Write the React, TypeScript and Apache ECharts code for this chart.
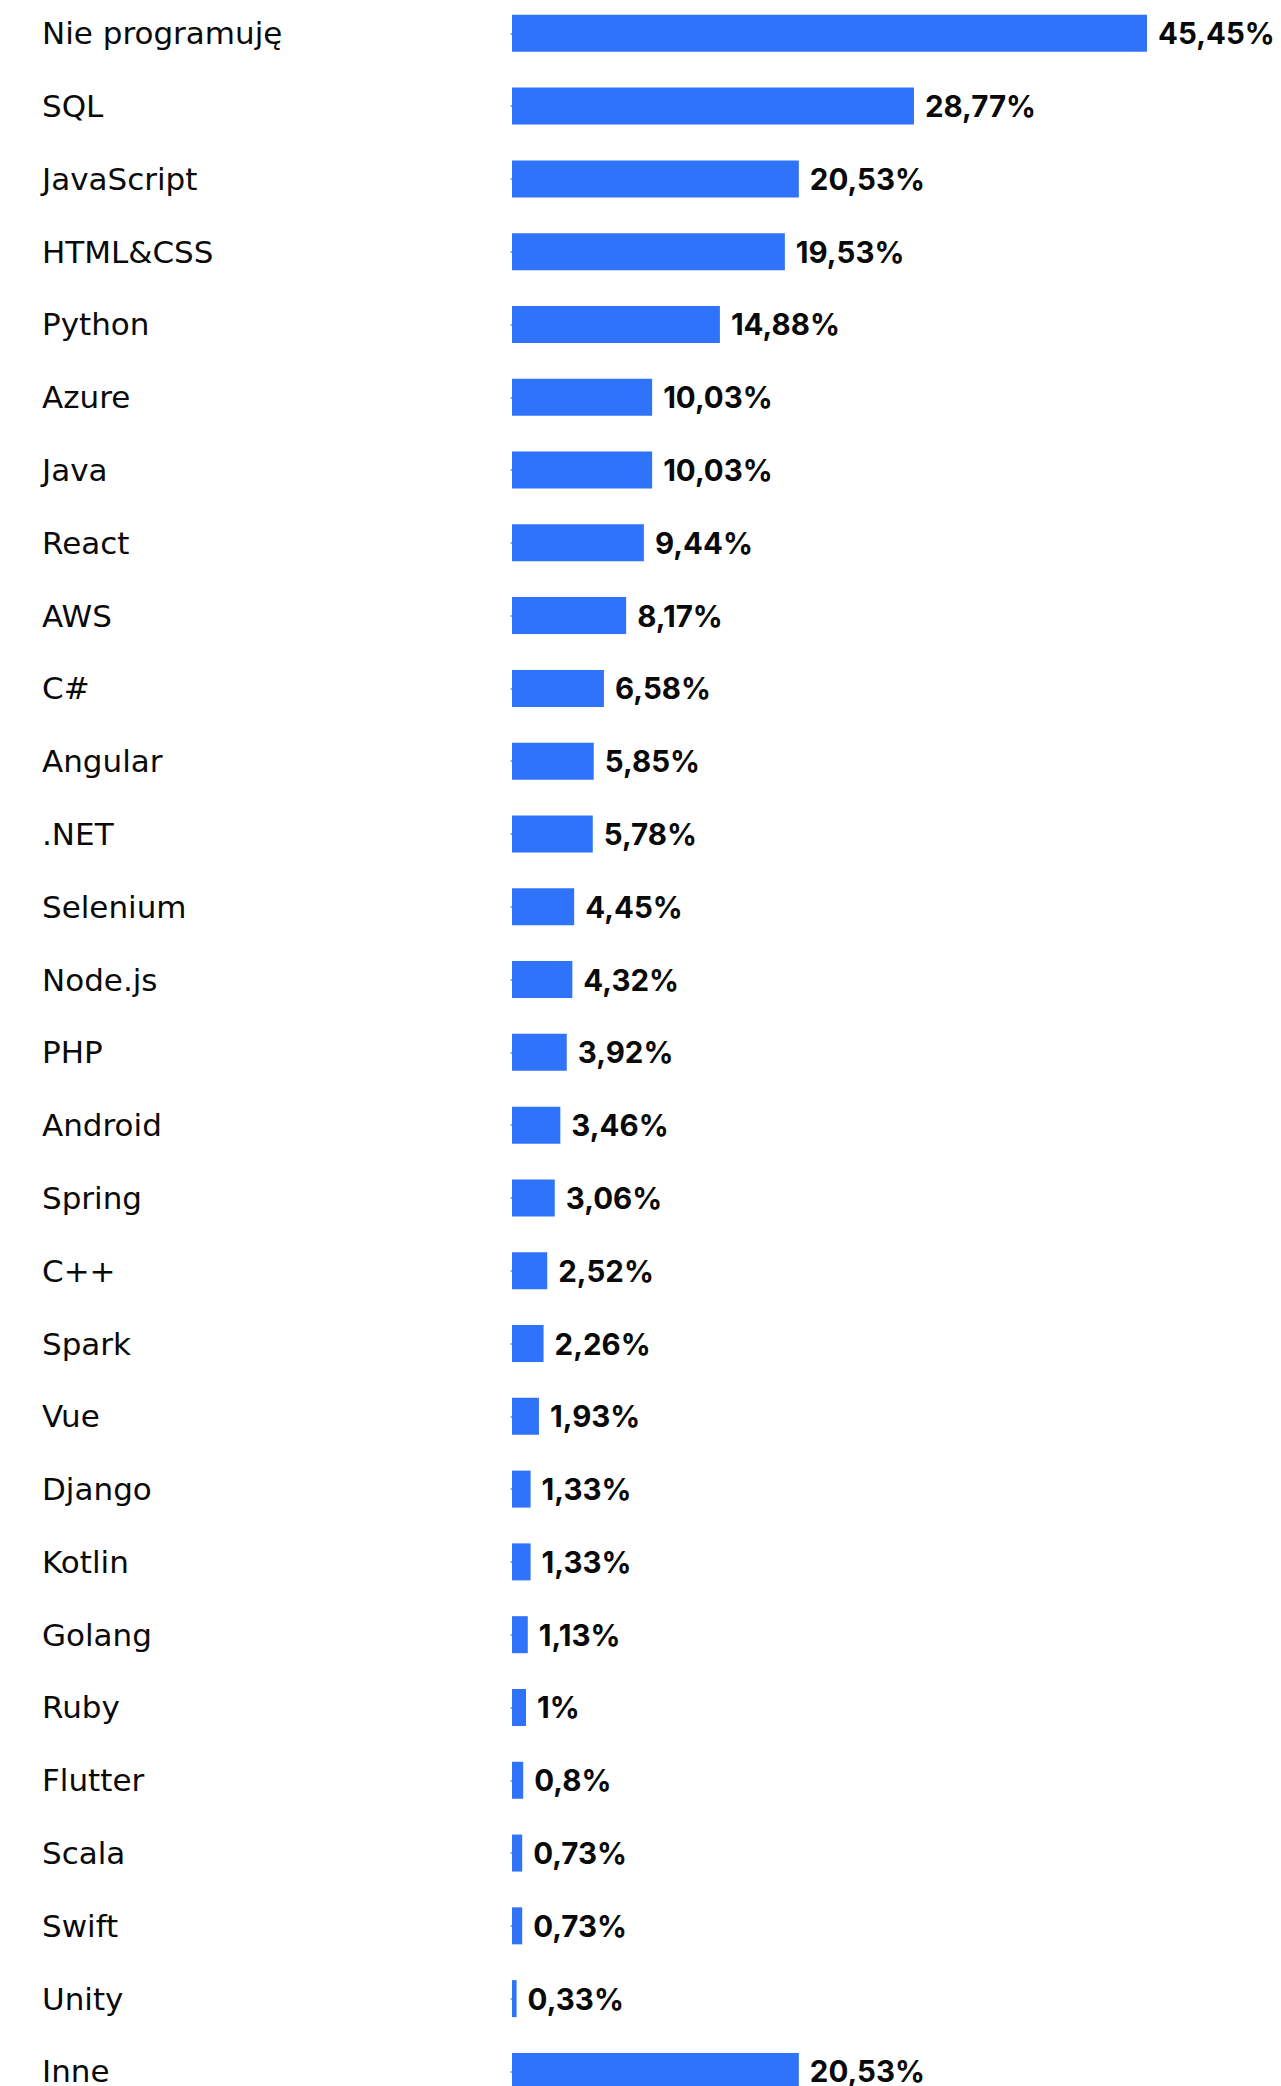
import React, { useEffect, useRef } from "react";
import * as echarts from "echarts";

const categories: string[] = [
  "Nie programuję", "SQL", "JavaScript", "HTML&CSS", "Python", "Azure", "Java", "React",
  "AWS", "C#", "Angular", ".NET", "Selenium", "Node.js", "PHP", "Android", "Spring",
  "C++", "Spark", "Vue", "Django", "Kotlin", "Golang", "Ruby", "Flutter", "Scala",
  "Swift", "Unity", "Inne",
];

const shares: number[] = [
  45.45, 28.77, 20.53, 19.53, 14.88, 10.03, 10.03, 9.44,
  8.17, 6.58, 5.85, 5.78, 4.45, 4.32, 3.92, 3.46, 3.06,
  2.52, 2.26, 1.93, 1.33, 1.33, 1.13, 1, 0.8, 0.73,
  0.73, 0.33, 20.53,
];

const formatShare = (v: number): string => String(v).replace(".", ",") + "%";

export default function App() {
  const ref = useRef<HTMLDivElement>(null);

  useEffect(() => {
    if (!ref.current) return;
    const chart = echarts.init(ref.current, undefined, { renderer: "svg" });
    const band = 72.79;
    chart.setOption({
      animation: false,
      backgroundColor: "#ffffff",
      grid: {
        left: 512,
        width: 635,
        top: 40 + 33.3 - band / 2,
        height: band * categories.length,
        containLabel: false,
      },
      xAxis: {
        type: "value",
        min: 0,
        max: Math.max(...shares),
        show: false,
      },
      yAxis: {
        type: "category",
        inverse: true,
        data: categories,
        offset: 87,
        axisLine: { show: false },
        axisTick: {
          show: true,
          alignWithLabel: true,
          length: 1.5,
          lineStyle: { color: "#8a8a8a", width: 1.5 },
        },
        axisLabel: {
          align: "left",
          margin: 383,
          color: "#0a0a0a",
          fontFamily: "DejaVu Sans",
          fontSize: 31,
          fontWeight: 400,
        },
        splitLine: { show: false },
      },
      series: [
        {
          type: "bar",
          data: shares,
          barWidth: 37,
          itemStyle: { color: "#2F73FA" },
          label: {
            show: true,
            position: "right",
            distance: 11,
            color: "#0a0a0a",
            fontFamily: "Inter",
            fontWeight: 700,
            fontSize: 29.5,
            formatter: (p: any) => formatShare(p.value),
          },
        },
      ],
    });
    return () => chart.dispose();
  }, []);

  return (
    <div
      ref={ref}
      style={{ position: "absolute", left: 0, top: -40, width: 1281, height: 2166 }}
    />
  );
}
